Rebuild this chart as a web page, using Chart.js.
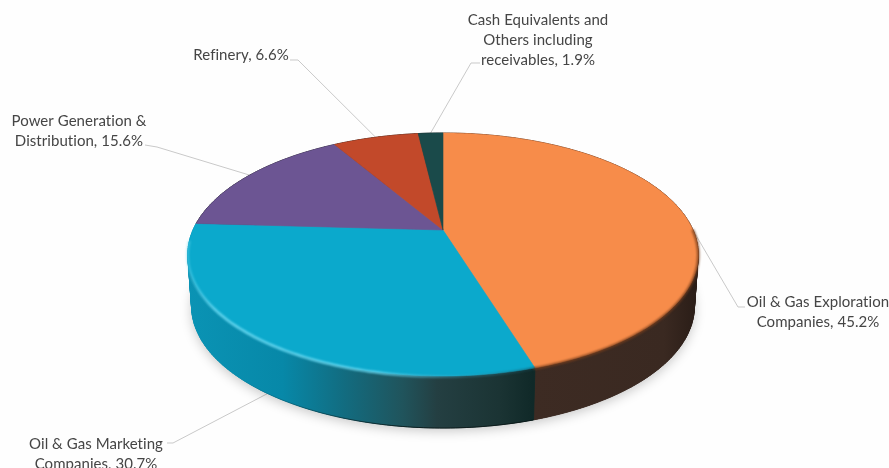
<!DOCTYPE html>
<html>
<head>
<meta charset="utf-8">
<style>
  html, body { margin: 0; padding: 0; background: #fefefe; overflow: hidden; }
  canvas { display: block; }
</style>
<script src="https://cdn.jsdelivr.net/npm/chart.js@4/dist/chart.umd.min.js"></script>
</head>
<body>
<canvas id="pie" width="889" height="468"></canvas>
<script>
// Portfolio allocation by sector, clockwise from twelve o'clock.
const categories = [
  'Oil & Gas Exploration Companies',
  'Oil & Gas Marketing Companies',
  'Power Generation & Distribution',
  'Refinery',
  'Cash Equivalents and Others including receivables'
];
const shares = [45.2, 30.7, 15.6, 6.6, 1.9];
const faceColors = ['#F78C4A', '#0BA9CC', '#6C5593', '#C2492A', '#1A4A4A'];

// Wrapped label text for each slice.
const labelLines = [
  ['Oil & Gas Exploration', 'Companies, 45.2%'],
  ['Oil & Gas Marketing', 'Companies, 30.7%'],
  ['Power Generation &', 'Distribution, 15.6%'],
  ['Refinery, 6.6%'],
  ['Cash Equivalents and', 'Others including', 'receivables, 1.9%']
];
// Label centre x, first baseline y, leader elbow and its short horizontal stub.
const labelCenterX = [818, 96, 79, 241, 538];
const labelTopY = [307, 449, 126, 60, 25];
const elbowX = [745, 167, 145, 290, 480];
const elbowY = [307, 443, 145, 60, 63];
const bendX = [738, 173, 157, 298, 471];
const bendY = [307, 443, 147, 60, 63];
// Offset of a leader's pie end; front slices attach on the rim, not the face.
const leaderDrop = [0, 54, 0, 0, 0];
const leaderShiftX = [0, 8, 0, 0, 0];

// Perspective projection of the disc onto the page.
const STRETCH_X = 250 / 230;
const STRETCH_Y = 116.6 / 230;
const TILT = -0.2016;
const RIM_DEPTH = 52;
const RIM_SHRINK = 0.985;
const STEP = Math.PI / 180;

function project(arc, angle) {
  const u = Math.cos(angle);
  const v = Math.sin(angle);
  const w = 1 + TILT * v;
  return {
    x: arc.x + arc.outerRadius * STRETCH_X * u / w,
    y: arc.y + arc.outerRadius * STRETCH_Y * v / w
  };
}

function lowered(arc, p) {
  return { x: arc.x + (p.x - arc.x) * RIM_SHRINK, y: p.y + RIM_DEPTH };
}

function edgePoints(arc, from, to) {
  const pts = [];
  const n = Math.max(2, Math.ceil((to - from) / STEP));
  for (let i = 0; i <= n; i++) pts.push(project(arc, from + (to - from) * i / n));
  return pts;
}

function tracePolyline(ctx, pts) {
  ctx.beginPath();
  pts.forEach((p, i) => (i ? ctx.lineTo(p.x, p.y) : ctx.moveTo(p.x, p.y)));
}

function tracePolygon(ctx, pts) {
  tracePolyline(ctx, pts);
  ctx.closePath();
}

function rimFill(ctx, index) {
  if (index === 1) {
    const g = ctx.createLinearGradient(190, 0, 533, 0);
    g.addColorStop(0, '#0A93B4');
    g.addColorStop(0.27, '#0788A8');
    g.addColorStop(0.45, '#126C80');
    g.addColorStop(0.62, '#20545C');
    g.addColorStop(0.72, '#243F42');
    g.addColorStop(0.9, '#1B3434');
    g.addColorStop(1, '#102928');
    return g;
  }
  if (index === 0) {
    const g = ctx.createLinearGradient(533, 0, 697, 0);
    g.addColorStop(0, '#3D2B23');
    g.addColorStop(0.8, '#3A2921');
    g.addColorStop(1, '#2A1D17');
    return g;
  }
  return '#222222';
}

const perspectivePie = {
  id: 'perspectivePie',
  beforeDatasetDraw(chart, args) {
    const ctx = chart.ctx;
    const arcs = chart.getDatasetMeta(args.index).data;
    const hub = arcs[0];
    const full = edgePoints(hub, -Math.PI / 2, Math.PI * 1.5);

    // Leader lines run underneath the pie.
    ctx.save();
    ctx.strokeStyle = '#C9C9C9';
    ctx.lineWidth = 1;
    arcs.forEach((arc, i) => {
      const mid = project(arc, (arc.startAngle + arc.endAngle) / 2);
      ctx.beginPath();
      ctx.moveTo(elbowX[i], elbowY[i]);
      ctx.lineTo(bendX[i], bendY[i]);
      ctx.lineTo(mid.x + leaderShiftX[i], mid.y + leaderDrop[i]);
      ctx.stroke();
    });
    ctx.restore();

    // Soft ground shadow under the lowered outline.
    ctx.save();
    ctx.shadowColor = 'rgba(0,0,0,0.22)';
    ctx.shadowBlur = 12;
    ctx.shadowOffsetY = 3;
    ctx.fillStyle = '#888888';
    tracePolygon(ctx, full.map(p => lowered(hub, p)));
    ctx.fill();
    ctx.restore();

    // Rim walls: quads close the side silhouette, one solid strip then evens the fill.
    arcs.forEach((arc, i) => {
      const top = edgePoints(arc, arc.startAngle, arc.endAngle);
      const low = top.map(p => lowered(arc, p));
      const fill = rimFill(ctx, i);
      ctx.fillStyle = fill;
      ctx.strokeStyle = fill;
      ctx.lineWidth = 0.8;
      for (let k = 1; k < top.length; k++) {
        tracePolygon(ctx, [top[k - 1], top[k], low[k], low[k - 1]]);
        ctx.fill();
        ctx.stroke();
      }
      tracePolygon(ctx, top.concat(low.slice().reverse()));
      ctx.fill();
    });

    // Dark lip along the bottom of the blue wall.
    ctx.save();
    const lip = ctx.createLinearGradient(240, 0, 400, 0);
    lip.addColorStop(0, 'rgba(8,20,20,0)');
    lip.addColorStop(1, 'rgba(8,20,20,0.8)');
    ctx.strokeStyle = lip;
    ctx.lineWidth = 1;
    tracePolyline(ctx, edgePoints(arcs[1], arcs[1].startAngle, arcs[1].endAngle).map(p => lowered(arcs[1], p)));
    ctx.stroke();
    ctx.restore();

    // Top faces.
    arcs.forEach((arc, i) => {
      const pts = [{ x: arc.x, y: arc.y }].concat(edgePoints(arc, arc.startAngle, arc.endAngle));
      tracePolygon(ctx, pts);
      ctx.fillStyle = faceColors[i];
      ctx.fill();
      ctx.strokeStyle = faceColors[i];
      ctx.lineWidth = 0.6;
      ctx.stroke();
    });

    // Bevel: soft light line on the blue edge, soft dark line on the orange edge.
    const blue = arcs[1];
    const orange = arcs[0];
    ctx.save();
    ctx.filter = 'blur(1px)';
    ctx.lineCap = 'round';
    const glow = ctx.createLinearGradient(188, 0, 533, 0);
    glow.addColorStop(0, 'rgba(90,210,235,0.5)');
    glow.addColorStop(0.08, 'rgba(100,215,240,1)');
    glow.addColorStop(0.55, 'rgba(100,215,240,0.95)');
    glow.addColorStop(0.8, 'rgba(60,170,195,0.35)');
    glow.addColorStop(1, 'rgba(20,60,70,0.6)');
    ctx.strokeStyle = glow;
    ctx.lineWidth = 2.5;
    tracePolyline(ctx, edgePoints(blue, blue.startAngle, Math.PI * 0.97).map(p => ({ x: p.x, y: p.y + 0.5 })));
    ctx.stroke();
    ctx.strokeStyle = 'rgba(120,62,28,0.85)';
    tracePolyline(ctx, edgePoints(orange, 0, orange.endAngle).map(p => ({ x: p.x, y: p.y + 0.5 })));
    ctx.stroke();
    ctx.restore();

    // Text.
    ctx.save();
    ctx.fillStyle = '#454545';
    ctx.font = '15px Lato';
    ctx.letterSpacing = '0.05px';
    ctx.textAlign = 'center';
    ctx.textBaseline = 'alphabetic';
    labelLines.forEach((lines, i) => {
      lines.forEach((line, j) => ctx.fillText(line, labelCenterX[i], labelTopY[i] + j * 20));
    });
    ctx.restore();

    return false;
  }
};

new Chart(document.getElementById('pie'), {
  type: 'pie',
  data: {
    labels: categories,
    datasets: [{ data: shares, backgroundColor: faceColors, borderWidth: 0 }]
  },
  options: {
    responsive: false,
    animation: false,
    layout: { padding: { left: 0, top: 0, right: 3, bottom: 8 } },
    plugins: { legend: { display: false }, tooltip: { enabled: false } }
  },
  plugins: [perspectivePie]
});
</script>
</body>
</html>
